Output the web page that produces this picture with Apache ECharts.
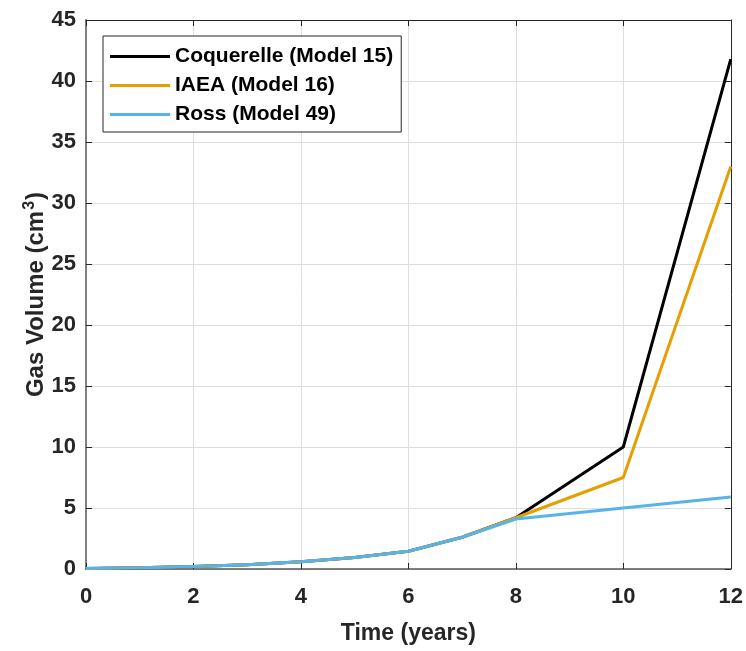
<!DOCTYPE html>
<html>
<head>
<meta charset="utf-8">
<script src="https://cdn.jsdelivr.net/npm/echarts@6/dist/echarts.min.js"></script>
<style>
  html, body { margin: 0; padding: 0; background: #fff; }
  #chart { width: 746px; height: 651px; }
</style>
</head>
<body>
<div id="chart"></div>
<script>
// data
var years = [0, 1, 2, 3, 4, 5, 6, 7, 8, 10, 12];
var coquerelle = [0.05, 0.1, 0.2, 0.35, 0.6, 0.95, 1.45, 2.6, 4.2, 10.0, 41.8];
var iaea = [0.05, 0.1, 0.2, 0.35, 0.6, 0.95, 1.45, 2.6, 4.2, 7.5, 33.0];
var ross = [0.05, 0.1, 0.2, 0.35, 0.6, 0.95, 1.45, 2.6, 4.1, 5.0, 5.9];
var names = ['Coquerelle (Model 15)', 'IAEA (Model 16)', 'Ross (Model 49)'];
var colors = ['#000000', '#E69F00', '#56B4E9'];

function pairs(v) {
    return years.map(function(x, i){ return [x, v[i]]; });
}

var font = 'Liberation Sans, Arial, sans-serif';
var chart = echarts.init(document.getElementById('chart'));

// mirror axes for the ticks on top / right
function mirror(pos, isX) {
    return {
        type: 'value',
        position: pos,
        min: 0,
        max: isX ? 12 : 45,
        interval: isX ? 2 : 5,
        axisLine: { show: true, onZero: false, lineStyle: { color: '#262626', width: 1 } },
        axisTick: { show: true, inside: true, length: 6, lineStyle: { color: '#262626' } },
        axisLabel: { show: false },
        splitLine: { show: false }
    };
}

var option = {
    animation: false,
    backgroundColor: '#fff',
    grid: { left: 86, right: 15, top: 20, bottom: 82 },
    legend: {
        orient: 'vertical',
        left: 103,
        top: 36,
        data: names,
        icon: 'rect',
        itemWidth: 60,
        itemHeight: 3,
        itemGap: 8,
        padding: [10, 8, 7, 7],
        backgroundColor: '#fff',
        borderColor: '#262626',
        borderWidth: 1,
        borderRadius: 0,
        textStyle: { fontFamily: font, fontWeight: 'bold', fontSize: 21, color: '#000' }
    },
    xAxis: [{
        type: 'value',
        min: 0,
        max: 12,
        interval: 2,
        name: 'Time (years)',
        nameLocation: 'middle',
        nameGap: 53,
        nameTextStyle: { fontFamily: font, fontWeight: 'bold', fontSize: 23, color: '#262626' },
        axisLine: { show: true, onZero: false, lineStyle: { color: '#555', width: 1.5 } },
        axisTick: { show: true, inside: true, length: 6, lineStyle: { color: '#262626' } },
        axisLabel: { fontFamily: font, fontWeight: 'bold', fontSize: 22, color: '#262626', margin: 17 },
        splitLine: { show: true, lineStyle: { color: '#dedede', width: 1 } }
    }, mirror('top', true)],
    yAxis: [{
        type: 'value',
        min: 0,
        max: 45,
        interval: 5,
        name: 'Gas Volume (cm{sup|3})',
        nameLocation: 'middle',
        nameRotate: 90,
        nameGap: 36,
        nameMoveOverlap: false,
        nameTextStyle: {
            fontFamily: font, fontWeight: 'bold', fontSize: 24, color: '#262626',
            rich: {
                sup: { fontFamily: font, fontWeight: 'bold', fontSize: 16, color: '#262626', verticalAlign: 'top', padding: [0, 1, 12, 1] }
            }
        },
        axisLine: { show: true, onZero: false, lineStyle: { color: '#808080', width: 2 } },
        axisTick: { show: true, inside: true, length: 6, lineStyle: { color: '#262626' } },
        axisLabel: { fontFamily: font, fontWeight: 'bold', fontSize: 22, color: '#262626', margin: 10 },
        splitLine: { show: true, lineStyle: { color: '#dedede', width: 1 } }
    }, mirror('right', false)],
    series: [
        { name: names[0], type: 'line', data: pairs(coquerelle), symbol: 'none', color: colors[0], lineStyle: { width: 3 }, z: 3 },
        { name: names[1], type: 'line', data: pairs(iaea), symbol: 'none', color: colors[1], lineStyle: { width: 3 }, z: 4 },
        { name: names[2], type: 'line', data: pairs(ross), symbol: 'none', color: colors[2], lineStyle: { width: 3 }, z: 5 }
    ]
};

chart.setOption(option);
</script>
</body>
</html>
